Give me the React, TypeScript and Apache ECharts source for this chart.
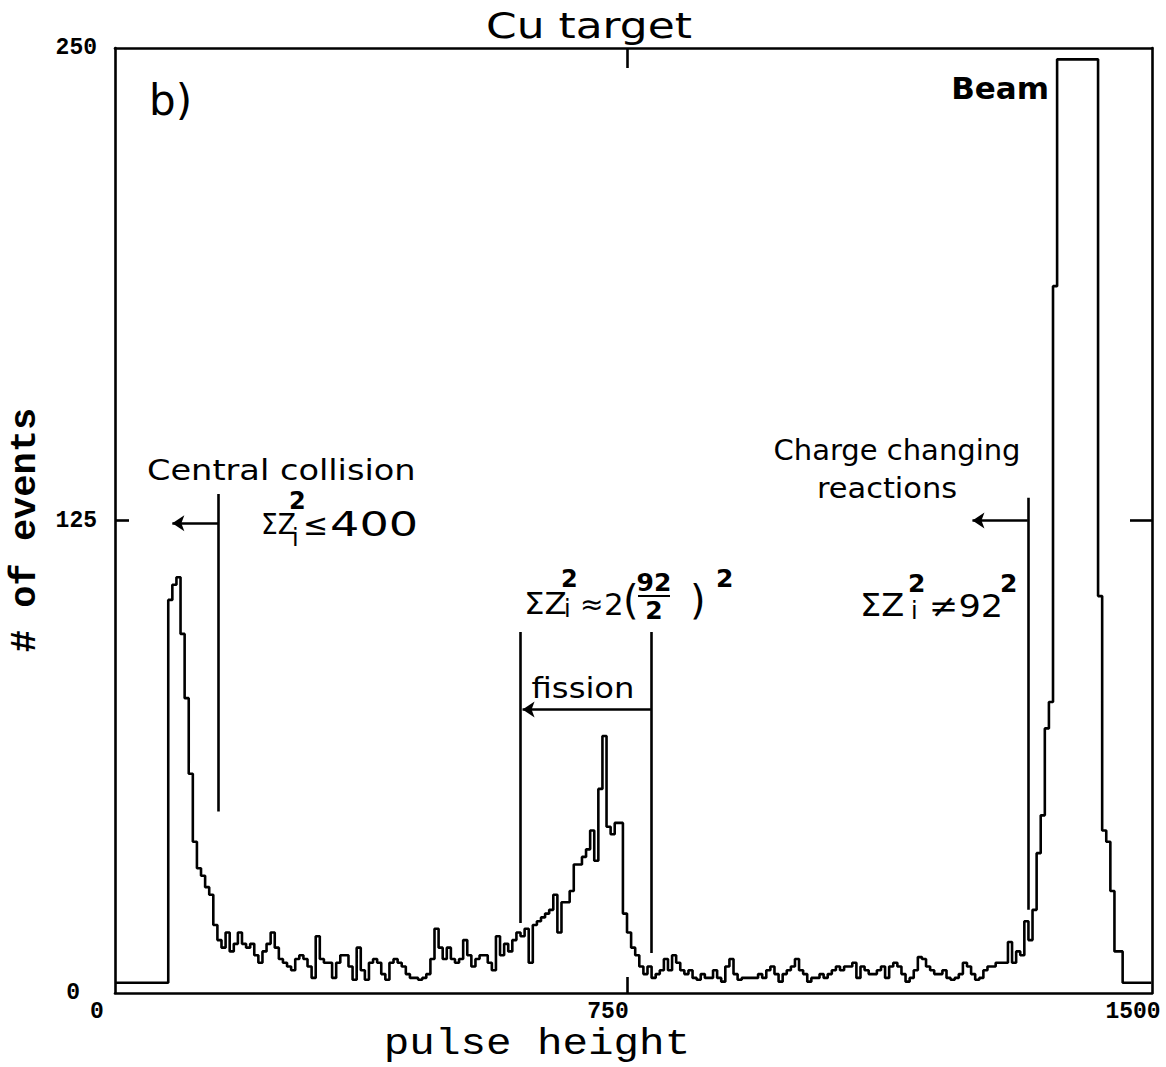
import React, { useEffect, useRef } from "react";
import * as echarts from "echarts";

// histogram: bin width in pulse-height units, counts per bin
const BIN_WIDTH = 6;
const counts: number[] = [
  2.7, 2.7, 2.7, 2.7, 2.7, 2.7, 2.7, 2.7, 2.7, 2.7,
  2.7, 2.7, 2.7, 104, 108, 110, 95, 78, 58, 40,
  33, 31, 28, 26, 18, 14, 12, 16, 11, 13,
  16, 13, 12, 13, 10, 8, 11, 13, 16, 12,
  9, 8, 7, 6, 9, 10, 9, 7, 4, 15,
  9, 8, 8, 4, 8, 10, 10, 7, 3.5, 12,
  6, 3.5, 8, 9, 8, 5, 3.5, 8, 9, 8,
  7, 5, 4, 4, 3.5, 4, 5, 9, 17, 12,
  9, 12, 9, 8, 9, 14, 10, 7, 9, 10,
  10, 8, 6, 15, 10, 13, 11, 14, 16, 15,
  17, 8, 18, 19, 20, 21, 22, 26, 16, 24,
  24, 27, 34, 34, 36, 38, 43, 35, 54, 68,
  44, 42, 45, 45, 21, 16, 12, 10, 7, 5,
  7, 4, 5, 6, 9, 6, 10, 8, 6, 5,
  6, 4, 3.5, 5, 4, 4, 6, 4, 3, 7,
  9, 5, 3.5, 4, 4, 4, 4, 5, 4, 6,
  7, 5, 3, 5, 6, 7, 9, 6, 5, 3,
  4, 4, 5, 4, 5, 6, 7, 6, 7, 7,
  8, 4, 7, 6, 5, 5, 6, 7, 4, 7,
  8, 7, 5, 3, 4, 6, 9.5, 9, 7, 6,
  5, 5, 6, 4, 3.5, 4, 5, 8, 7, 5,
  3.5, 4, 6, 7, 7, 8, 8, 8, 13.5, 8,
  11, 10, 19, 14, 22, 37, 47, 70, 77, 187,
  247, 247, 247, 247, 247, 247, 247, 247, 247, 247,
  105, 43, 40, 27, 11, 11, 2.7, 2.7, 2.7, 2.7,
  2.7, 2.7, 2.7,
];

const xTickLabels = [0, 750, 1500];
const yTickLabels = [0, 125, 250];
const xMajorTick = [750];
const yMajorTick = [125];

// annotation segments, in data units [pulse height, # of events]
const centralMarker = [[151, 48], [151, 132]];
const centralArrow = [[151, 124.3], [84, 124.3]];
const fissionLeft = [[594, 18.5], [594, 95.5]];
const fissionRight = [[785, 10.6], [785, 95.5]];
const fissionArrow = [[785, 75], [597, 75]];
const chargeMarker = [[1337, 22], [1337, 131]];
const chargeArrow = [[1337, 125], [1256, 125]];

const SANS = "DejaVu Sans";
const MONO = "Liberation Mono";

function txt(text: string, x: number, y: number, size: number, extra: any = {}) {
  const { align = "left", weight = "normal", family = SANS, ...rest } = extra;
  return {
    type: "text",
    x,
    y,
    silent: true,
    ...rest,
    style: {
      text,
      fontSize: size,
      fontFamily: family,
      fontWeight: weight,
      fill: "#000",
      align,
      verticalAlign: "middle",
    },
  };
}

export default function App() {
  const ref = useRef<HTMLDivElement>(null);

  useEffect(() => {
    if (!ref.current) return;
    const chart = echarts.init(ref.current, undefined, { renderer: "svg" });

    const histData: number[][] = counts.map((c, i) => [i * BIN_WIDTH, c]);
    histData.push([counts.length * BIN_WIDTH, counts[counts.length - 1]]);

    const axisLine = { show: true, onZero: false, lineStyle: { color: "#000", width: 2.6 } };
    const labelFont = { fontFamily: MONO, fontWeight: "bold", fontSize: 23, color: "#000" };
    const tickStyle = { color: "#000", width: 2.6 };

    const option: any = {
      animation: false,
      backgroundColor: "#fff",
      grid: { left: 115, top: 48, width: 1037, height: 945, containLabel: false },
      xAxis: [
        {
          type: "value",
          min: 0,
          max: 1519,
          position: "bottom",
          axisLine,
          splitLine: { show: false },
          axisTick: { show: true, inside: true, length: 16, customValues: xMajorTick, lineStyle: tickStyle },
          axisLabel: {
            show: true,
            customValues: xTickLabels,
            margin: 7,
            formatter: (v: number) => (v === 0 ? "{z|0}" : v === 750 ? "{m|750}" : "{e|" + v + "}"),
            rich: {
              z: { ...labelFont, padding: [0, 36, 0, 0] },
              m: { ...labelFont, padding: [0, 38, 0, 0] },
              e: { ...labelFont, padding: [0, 12, 0, 0] },
            },
          },
        },
        {
          type: "value",
          min: 0,
          max: 1519,
          position: "top",
          axisLine,
          splitLine: { show: false },
          axisTick: { show: true, inside: true, length: 20, customValues: xMajorTick, lineStyle: tickStyle },
          axisLabel: { show: false },
        },
      ],
      yAxis: [
        {
          type: "value",
          min: 0,
          max: 250,
          position: "left",
          axisLine,
          splitLine: { show: false },
          axisTick: { show: true, inside: true, length: 14, customValues: yMajorTick, lineStyle: tickStyle },
          axisLabel: {
            show: true,
            customValues: yTickLabels,
            margin: 18,
            formatter: (v: number) => (v === 0 ? "{z|0}" : "{n|" + v + "}"),
            rich: {
              n: { ...labelFont },
              z: { ...labelFont, padding: [0, 17, 0, 0] },
            },
          },
        },
        {
          type: "value",
          min: 0,
          max: 250,
          position: "right",
          axisLine,
          splitLine: { show: false },
          axisTick: { show: true, inside: true, length: 22, customValues: yMajorTick, lineStyle: tickStyle },
          axisLabel: { show: false },
        },
      ],
      series: [
        {
          type: "line",
          name: "Cu target",
          xAxisIndex: 0,
          yAxisIndex: 0,
          step: "end",
          showSymbol: false,
          symbol: "none",
          data: histData,
          lineStyle: { color: "#000", width: 2.6 },
          silent: true,
        },
        {
          type: "lines",
          coordinateSystem: "cartesian2d",
          xAxisIndex: 0,
          yAxisIndex: 0,
          symbol: ["none", "none"],
          lineStyle: { color: "#000", width: 2.6, opacity: 1, curveness: 0 },
          silent: true,
          data: [
            { coords: centralMarker },
            { coords: fissionLeft },
            { coords: fissionRight },
            { coords: chargeMarker },
          ],
        },
        {
          type: "lines",
          coordinateSystem: "cartesian2d",
          xAxisIndex: 0,
          yAxisIndex: 0,
          symbol: ["none", "arrow"],
          symbolSize: [9, 12],
          itemStyle: { color: "#000" },
          lineStyle: { color: "#000", width: 2.6, opacity: 1, curveness: 0 },
          silent: true,
          data: [
            { coords: centralArrow },
            { coords: fissionArrow },
            { coords: chargeArrow },
          ],
        },
      ],
      graphic: [
        txt("Cu target", 589, 25, 36, { align: "center", scaleX: 1.22 }),
        txt("b)", 149, 100, 42),
        txt("Beam", 1049, 88, 31, { align: "right", weight: "bold" }),
        txt("Central collision", 147, 470, 28, { scaleX: 1.2 }),
        // ΣZ_i^2 ≤ 400
        txt("ΣZ", 261, 524, 28, { scaleX: 0.95 }),
        txt("2", 289, 501, 24, { weight: "bold" }),
        txt("i", 292, 538, 24),
        txt("≤", 303, 524, 30),
        txt("400", 330, 524, 33, { scaleX: 1.4 }),
        // fission formula  ΣZ_i^2 ≈ 2(92/2)^2
        txt("ΣZ", 524, 603, 31, { scaleX: 1.05 }),
        txt("2", 561, 579, 24, { weight: "bold" }),
        txt("i", 564, 609, 24),
        txt("≈", 580, 604, 28),
        txt("2", 604, 604, 31),
        txt("(", 623, 600, 40),
        txt("92", 654, 582, 25, { align: "center", weight: "bold" }),
        { type: "line", silent: true, shape: { x1: 638, y1: 596, x2: 670, y2: 596 }, style: { stroke: "#000", lineWidth: 2 } },
        txt("2", 654, 610, 25, { align: "center", weight: "bold" }),
        txt(")", 690, 600, 40),
        txt("2", 716, 578, 25, { weight: "bold" }),
        txt("fission", 583, 688, 28, { align: "center", scaleX: 1.15 }),
        txt("Charge changing", 897, 450, 29, { align: "center" }),
        txt("reactions", 887, 488, 29, { align: "center", scaleX: 1.05 }),
        // ΣZ_i^2 ≠ 92^2
        txt("ΣZ", 860, 605, 32, { scaleX: 1.05 }),
        txt("2", 908, 583, 25, { weight: "bold" }),
        txt("i", 911, 611, 24),
        txt("≠92", 929, 606, 32, { scaleX: 1.1 }),
        txt("2", 1000, 583, 25, { weight: "bold" }),
        // axis names
        txt("# of events", 25, 530, 37, { align: "center", family: MONO, weight: "bold", rotation: Math.PI / 2 }),
        txt("pulse height", 537, 1044, 37, { align: "center", family: MONO, scaleX: 1.15 }),
      ],
    };

    chart.setOption(option);
    return () => chart.dispose();
  }, []);

  return (
    <div
      ref={ref}
      style={{ position: "fixed", left: 0, top: 0, width: 1166, height: 1067, background: "#fff" }}
    />
  );
}
